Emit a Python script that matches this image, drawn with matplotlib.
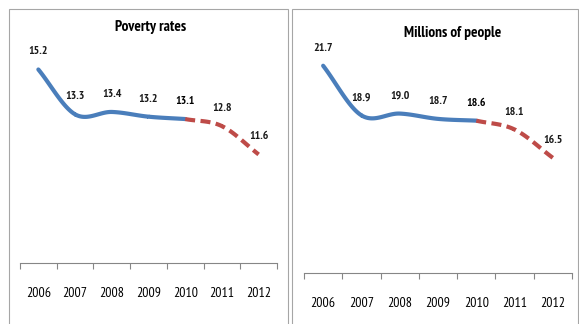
import numpy as np
import matplotlib
matplotlib.use('Agg')
import matplotlib.pyplot as plt
from matplotlib.patches import Rectangle

years = ['2006', '2007', '2008', '2009', '2010', '2011', '2012']
poverty_rates = [15.2, 13.3, 13.4, 13.2, 13.1, 12.8, 11.6]
millions_people = [21.7, 18.9, 19.0, 18.7, 18.6, 18.1, 16.5]
split = 4   # 2010: last observed year, after that projections

BLUE = '#4A7EBB'
RED = '#BE4B48'

plt.rcParams['font.family'] = ['PT Sans Narrow', 'Carlito', 'DejaVu Sans']


def smooth(x, y, n=30):
    # catmull-rom curve through the points, like a smoothed office line
    x = np.asarray(x, float)
    y = np.asarray(y, float)
    px = np.concatenate([[2 * x[0] - x[1]], x, [2 * x[-1] - x[-2]]])
    py = np.concatenate([[2 * y[0] - y[1]], y, [2 * y[-1] - y[-2]]])
    xs, ys = [], []
    t = np.linspace(0, 1, n)
    for i in range(1, len(px) - 2):
        for p, out in ((px, xs), (py, ys)):
            p0, p1, p2, p3 = p[i - 1], p[i], p[i + 1], p[i + 2]
            out.extend(0.5 * ((2 * p1) + (-p0 + p2) * t
                              + (2 * p0 - 5 * p1 + 4 * p2 - p3) * t ** 2
                              + (-p0 + 3 * p1 - 3 * p2 + p3) * t ** 3))
    return xs, ys


def panel(ax, values, title, ylim, title_pos):
    x = np.arange(len(years))
    sx, sy = smooth(x[:split + 1], values[:split + 1])
    ax.plot(sx, sy, color=BLUE, lw=3, solid_capstyle='round')
    sx, sy = smooth(x[split:], values[split:])
    ax.plot(sx, sy, color=RED, lw=3, dashes=(2.4, 1.3))
    for i, v in enumerate(values):
        ax.annotate(f'{v:.1f}', (x[i], v), xytext=(0, 18), textcoords='offset pixels',
                    ha='center', va='center', fontsize=8.5,
                    fontweight='bold', color='black' if i == split else '#1a1a1a')
    ax.set_xlim(-0.5, len(years) - 0.5)
    ax.set_ylim(*ylim)
    ax.set_yticks([])
    ax.set_xticks(np.arange(len(years) + 1) - 0.5)
    ax.set_xticklabels([])
    ax.set_xticks(x, minor=True)
    ax.set_xticklabels(years, minor=True, fontsize=10)
    ax.tick_params(axis='x', which='major', direction='out', length=4, color='#868686')
    ax.tick_params(axis='x', which='minor', length=0, pad=17)
    for s in ['left', 'right', 'top']:
        ax.spines[s].set_visible(False)
    ax.spines['bottom'].set_color('#868686')
    ax.patch.set_alpha(0)
    ax.figure.text(title_pos[0], title_pos[1], title, ha='center', va='center',
                   fontsize=11, fontweight='bold')


fig = plt.figure(figsize=(5.79, 3.24), dpi=100)
W, H = 579, 324

# chart frames
fig.patches.append(Rectangle((9 / W, -0.1), 279 / W, 1.1 - 9 / H, transform=fig.transFigure,
                             fill=False, ec='#A6A6A6', lw=0.8))
fig.patches.append(Rectangle((292 / W, -0.1), 286 / W, 1.1 - 9 / H, transform=fig.transFigure,
                             fill=False, ec='#A6A6A6', lw=0.8))

ax1 = fig.add_axes([20 / W, 61 / H, 257 / W, 236 / H])
panel(ax1, poverty_rates, 'Poverty rates', (7, 17), (151 / W, 1 - 27 / H))

ax2 = fig.add_axes([304 / W, 51 / H, 268 / W, 248 / H])
panel(ax2, millions_people, 'Millions of people', (10, 24), (453 / W, 1 - 33 / H))

fig.savefig('out.png', dpi=100)
